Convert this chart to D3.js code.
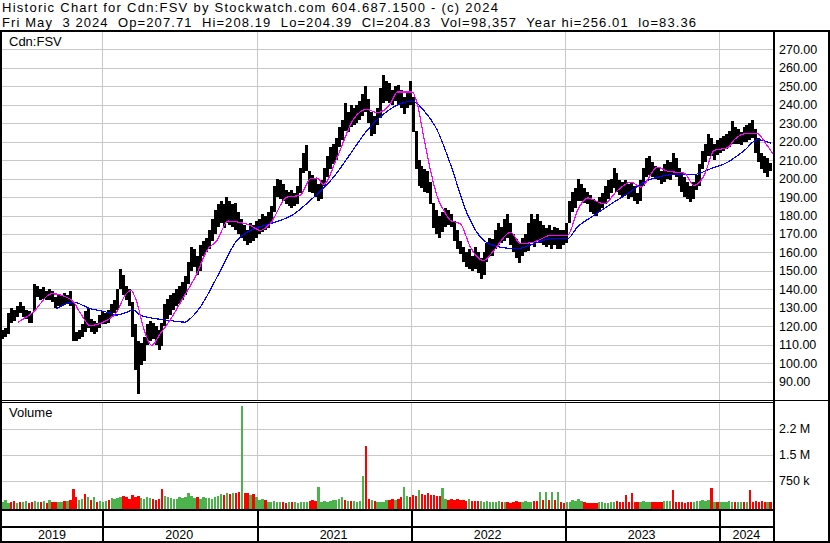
<!DOCTYPE html>
<html><head><meta charset="utf-8">
<script src="https://cdn.jsdelivr.net/npm/d3@7"></script>
<style>
html,body{margin:0;padding:0;background:#fff}
svg{display:block}
text{font-family:Arial,"Liberation Sans",sans-serif;fill:#000}
</style>
</head><body>
<svg id="c" width="830" height="543"></svg>
<script>
// ---------------- DATA ----------------
const headerLine1 = "Historic Chart for Cdn:FSV by Stockwatch.com 604.687.1500 - (c) 2024";
const headerLine2 = "Fri May  3 2024  Op=207.71  Hi=208.19  Lo=204.39  Cl=204.83  Vol=98,357  Year hi=256.01  lo=83.36";
const symbolLabel = "Cdn:FSV";
const volumeLabel = "Volume";
const firstWeek = "2019-05-10"; // weekly bars, one per week
const priceTicks = [90,100,110,120,130,140,150,160,170,180,190,200,210,220,230,240,250,260,270];
const volTicks = [750000,1500000,2250000];
const volTickLabels = ["750 k","1.5 M","2.2 M"];
const years = [2019,2020,2021,2022,2023,2024];

const weekHigh = [
118,119,127,130,129,131,133,131,129,128,
127,143,142,140,141,139,140,139,136,137,
137,138,137,139,133,117,118,121,128,130,
124,123,122,126,128,127,129,132,134,140,
151,148,142,140,133,121,112,111,114,121,
123,122,120,118,122,132,135,137,138,140,
142,144,147,155,163,162,158,164,166,168,
172,178,183,186,188,186,190,188,186,187,
182,178,175,172,176,175,177,178,181,180,
182,185,196,200,199,197,194,193,194,192,
196,206,214,218,204,202,200,197,199,206,
212,217,219,222,228,232,241,236,240,238,
240,242,246,250,243,236,234,238,249,256,
253,252,248,250,251,248,244,247,253,244,
226,210,207,205,204,198,187,183,180,182,
184,183,181,177,172,166,163,160,162,158,
163,160,157,160,165,168,167,172,176,174,
178,181,176,170,167,165,168,170,176,181,
178,181,177,175,173,175,172,174,173,172,
172,176,188,193,195,200,197,195,193,191,
189,188,190,192,196,199,200,206,203,199,
198,199,197,198,196,192,199,206,211,212,
209,207,206,204,208,210,209,214,211,206,
203,201,198,196,198,202,208,215,219,224,
222,219,221,222,223,224,226,231,228,227,
225,228,229,230,232,227,222,214,212,211,208.19];

const weekLow = [
113,114,116,122,123,125,127,125,124,122,
122,128,136,134,135,134,134,133,130,131,
131,132,132,131,112,112,113,114,117,119,
117,116,117,119,121,121,122,125,127,129,
140,137,134,131,114,96,83.36,99,101,110,
112,113,110,107,109,120,124,126,129,131,
132,134,137,143,150,152,148,150,158,160,
162,166,170,174,176,173,176,175,174,172,
170,168,166,164,165,166,168,170,171,172,
173,176,182,190,189,188,186,185,184,185,
186,192,203,204,193,192,190,188,189,196,
201,205,208,210,217,221,226,225,228,229,
230,232,234,236,230,223,224,229,233,241,
242,241,240,242,240,238,235,238,240,225,
205,196,195,193,192,186,173,170,168,171,
174,175,174,166,162,159,155,152,151,150,
151,149,145.7,148,155,158,158,162,164,165,
166,168,164,160,157,154,158,160,161,165,
163,166,165,164,163,164,162,164,162,162,
164,165,176,182,184,188,188,187,186,182,
181,180,182,184,186,189,192,195,193,191,
190,191,189,190,188,186.5,188,196,201,202,
201,200,199,197,198,200,199,202,201,196,
193,190,189,187.2,189,194,196,205,209,212,
212,210,213,214,215,216,217,219,219,219,
218,220,220,221,222,214,209,205,203,201,204.39];

// volume in thousands of shares
const weekVol = [
120,200,110,130,150,100,140,120,160,110,
130,170,140,120,150,110,180,130,120,140,
130,160,150,180,510,280,200,220,365,260,
180,260,140,160,130,170,190,250,220,240,
260,300,280,230,320,280,300,240,220,260,
250,210,200,230,510,290,260,240,220,230,
260,250,270,380,300,240,260,230,270,240,
250,230,280,300,350,330,380,360,400,380,
420,2900,400,380,320,365,260,200,220,180,
140,120,150,140,130,120,110,130,120,130,
110,120,140,130,160,180,170,560,130,150,
140,160,180,180,210,260,190,170,160,150,
140,160,880,1740,220,180,150,140,130,140,
180,200,220,200,210,260,560,300,280,340,
300,480,350,330,380,340,320,300,290,530,
220,200,230,200,210,180,190,170,220,160,
150,160,170,140,150,130,120,140,150,120,
120,130,110,140,150,120,130,160,140,130,
150,170,415,200,415,190,415,180,415,140,
110,120,140,180,150,230,170,130,110,100,
110,100,120,130,110,100,130,120,150,130,
140,330,130,395,120,140,130,150,140,130,
120,130,140,130,150,170,150,480,140,130,
130,110,120,130,140,160,150,180,170,180,
530,130,120,130,140,130,150,130,130,140,
130,140,130,480,140,150,130,150,140,130,120];

// g = up-volume (green), r = down-volume (red)
const volDir = (
"gggrrgrggr"+"rggrgrgrrg"+"grgrrrggrg"+"rgrgggrggg"+"grrrrrrggg"+
"grrrrggggg"+"ggggggrggg"+"gggggrgrgr"+"rgrrgrgggr"+"gggggrrgrg"+
"ggggrrrggg"+"ggggggrgrg"+"gggrrgrggg"+"grrgrrggrr"+"rgrrrrrrrg"+
"grrrrrrrgr"+"rrgggggggr"+"grrrrrgggg"+"rrgrgrgrgr"+"rggggggrrr"+
"rrggggggrr"+"rrrrrrgggg"+"rrrrgggrrr"+"rrrrgggggg"+"rgrgggggrg"+
"grgrrrrrrgr").split("");

// moving averages sampled along the chart (week index, value)
const maFastIdx = [5.3,10.4,16.6,23.4,26.2,29.6,35.3,38.7,41.5,43.5,45.5,47.7,50.5,53.4,56.7,61.3,65.8,69.2,72.6,76.4,81.2,83.9,87.3,90.6,96.3,100.8,104.2,106.5,108.7,113.3,118.9,123.4,126.8,131.3,133.6,138.7,140.4,142.6,144.9,147.2,149.4,151.7,155,158.4,162.9,166.3,172,175.4,179.9,185.6,191.2,195,198,203.6,208.2,212.7,216.1,221.7,225.1,230.7,234.1,237.5,240.9,245.5,247.7,252.3,255.6,258.4,260.7];
const maFastVal = [122.2,127.6,137.6,134.3,127.6,120.4,123.2,127.6,136.7,139.4,133,119.5,109.6,115.9,123.2,135.8,148.4,161,166.5,177,176,174.6,171.9,175.5,190,190.9,199.9,200.3,196.8,211.6,232.4,237.5,235.7,240.6,246.9,246.9,240.6,222.5,204.4,190,182.7,177.3,175.5,162.8,155.6,161,170.9,164.7,165.6,169.2,169.2,184,189.5,186.4,193.6,198.1,195.4,206.2,204,203,196.3,201.7,215.3,216.7,221.1,224.6,224.3,218.9,213.5];
const maSlowIdx = [18.3,24,29.6,35.3,38.7,42.1,44.3,46.6,50,54.5,59,61.8,63.5,66.9,72.6,79.4,83.9,90.6,98.5,104.2,112.1,117.8,123.4,129.1,134.7,138.9,142.6,147.2,151.7,157.3,162.9,168.6,174.3,179.9,185.6,191.2,194.6,200.2,206.1,211.6,217.2,222.8,228.5,234.2,239.8,245.5,251.1,255.6,260.1];
const maSlowVal = [129.6,133,129.6,127.6,126,127.6,128.9,126,124.6,123.5,122.6,122.2,124,130.2,146.5,166.5,171.9,175.5,180.6,188.2,200.8,213.5,226.1,235.1,240.6,242,236.9,226.1,207.5,181,166.5,162.8,162,164.7,167.4,167.4,173.7,180,186.4,191.8,198.1,201.2,202.3,202.3,205.4,208.9,215.3,221.1,219.2];

// ---------------- CHART ----------------
const svg = d3.select("#c");
const PL = 2, PR = 774;            // plot left / right
const P_TOP = 31, P_BOT = 400;     // price panel
const V_TOP = 402.5, V_BOT = 506.5; // volume panel scale
const GRID = "#c8c8c8";

const start = d3.timeParse("%Y-%m-%d")(firstWeek);
const weekDate = i => new Date(start.getTime() + i * 7 * 864e5);

const x = d3.scaleTime()
  .domain([new Date(2019,4,9), new Date(2024,4,11)])
  .range([PL, PR]);
const y = d3.scaleLinear().domain([80,280]).range([P_BOT, P_TOP]);
const yv = d3.scaleLinear().domain([0,3000000]).range([V_BOT, V_TOP]);

svg.append("rect").attr("width",830).attr("height",543).attr("fill","#fff");

// header
svg.append("text").attr("x",2).attr("y",11.5).style("font-size","13px")
  .attr("textLength",496).attr("lengthAdjust","spacing").text(headerLine1);
svg.append("text").attr("x",2).attr("y",27).style("font-size","13px")
  .style("white-space","pre").attr("xml:space","preserve")
  .attr("textLength",694).attr("lengthAdjust","spacing").text(headerLine2);

const defs = svg.append("defs");
defs.append("clipPath").attr("id","pclip").append("rect")
  .attr("x",PL).attr("y",P_TOP).attr("width",PR-PL-1).attr("height",P_BOT-P_TOP);
defs.append("clipPath").attr("id","vclip").append("rect")
  .attr("x",PL).attr("y",403).attr("width",PR-PL-1).attr("height",106);

const yearBounds = years.slice(1).map(yr => new Date(yr,0,1));

// price grid
const pg = svg.append("g").attr("shape-rendering","crispEdges");
pg.selectAll("line.h").data(priceTicks).join("line")
  .attr("x1",PL).attr("x2",PR-1)
  .attr("y1",d=>Math.round(y(d))+0.5).attr("y2",d=>Math.round(y(d))+0.5)
  .attr("stroke",GRID);
pg.selectAll("line.v").data(yearBounds).join("line")
  .attr("x1",d=>Math.round(x(d))+0.5).attr("x2",d=>Math.round(x(d))+0.5)
  .attr("y1",P_TOP).attr("y2",P_BOT).attr("stroke",GRID);

// volume grid
const vg = svg.append("g").attr("shape-rendering","crispEdges");
vg.selectAll("line.h").data(volTicks).join("line")
  .attr("x1",PL).attr("x2",PR-1)
  .attr("y1",d=>Math.round(yv(d))+0.5).attr("y2",d=>Math.round(yv(d))+0.5)
  .attr("stroke",GRID);
vg.selectAll("line.v").data(yearBounds).join("line")
  .attr("x1",d=>Math.round(x(d))+0.5).attr("x2",d=>Math.round(x(d))+0.5)
  .attr("y1",403).attr("y2",509).attr("stroke",GRID);

// price bars
const bars = weekHigh.map((h,i)=>({d:weekDate(i), hi:h, lo:weekLow[i]}));
svg.append("g").attr("clip-path","url(#pclip)").attr("shape-rendering","crispEdges")
  .selectAll("rect").data(bars).join("rect")
  .attr("x",d=>x(d.d)-1.5).attr("width",3)
  .attr("y",d=>y(d.hi)).attr("height",d=>Math.max(1,y(d.lo)-y(d.hi)))
  .attr("fill","#000");

// moving averages
const line = d3.line().x(d=>x(weekDate(d[0]))).y(d=>y(d[1])).curve(d3.curveMonotoneX);
const gMA = svg.append("g").attr("clip-path","url(#pclip)").attr("shape-rendering","crispEdges");
gMA.append("path").attr("d",line(maSlowIdx.map((v,i)=>[v,maSlowVal[i]])))
  .attr("fill","none").attr("stroke","#0000ff").attr("stroke-width",1.2);
gMA.append("path").attr("d",line(maFastIdx.map((v,i)=>[v,maFastVal[i]])))
  .attr("fill","none").attr("stroke","#ff00ff").attr("stroke-width",1.2);

// volume bars
const vols = weekVol.map((v,i)=>({d:weekDate(i), v:v*1000, dir:volDir[i]}));
svg.append("g").attr("clip-path","url(#vclip)").attr("shape-rendering","crispEdges")
  .selectAll("rect").data(vols).join("rect")
  .attr("x",d=>x(d.d)-1.2).attr("width",2.4)
  .attr("y",d=>yv(d.v)).attr("height",d=>509-yv(d.v))
  .attr("fill",d=>d.dir==="g"?"#4cb34c":"#ff0000");

// labels inside panels
svg.append("text").attr("x",9).attr("y",46).style("font-size","13px").text(symbolLabel);
svg.append("text").attr("x",9).attr("y",417).style("font-size","13px").text(volumeLabel);

// right axis labels
const ra = svg.append("g");
ra.selectAll("text.p").data(priceTicks).join("text")
  .attr("x",779).attr("y",d=>y(d)).attr("dy","0.36em").style("font-size","12.5px")
  .text(d=>d3.format(".2f")(d));
ra.selectAll("text.v").data(volTicks).join("text")
  .attr("x",779).attr("y",d=>yv(d)).attr("dy","0.36em").style("font-size","12.5px")
  .text((d,i)=>volTickLabels[i]);

// frame lines
const fr = svg.append("g").attr("shape-rendering","crispEdges").attr("fill","#000");
fr.append("rect").attr("x",0).attr("y",30).attr("width",830).attr("height",2);
fr.append("rect").attr("x",0).attr("y",30).attr("width",2).attr("height",513);
fr.append("rect").attr("x",773).attr("y",30).attr("width",2).attr("height",513);
fr.append("rect").attr("x",828).attr("y",30).attr("width",2).attr("height",513);
fr.append("rect").attr("x",0).attr("y",400).attr("width",830).attr("height",1);
fr.append("rect").attr("x",0).attr("y",402).attr("width",775).attr("height",1);
fr.append("rect").attr("x",0).attr("y",509).attr("width",775).attr("height",2);
fr.append("rect").attr("x",0).attr("y",526).attr("width",775).attr("height",2);
fr.append("rect").attr("x",0).attr("y",541).attr("width",830).attr("height",2);
fr.selectAll("rect.yr").data(yearBounds).join("rect")
  .attr("x",d=>Math.round(x(d))).attr("y",511).attr("width",1.5).attr("height",30);

// year labels centred in their segments
const segs = years.map((yr,i)=>{
  const a = i===0 ? PL : x(new Date(yr,0,1));
  const b = i===years.length-1 ? PR : x(new Date(yr+1,0,1));
  return {yr, c:(a+b)/2};
});
svg.append("g").selectAll("text").data(segs).join("text")
  .attr("x",d=>d.c).attr("y",539).attr("text-anchor","middle").style("font-size","12.5px")
  .text(d=>d.yr);
</script>
</body></html>
